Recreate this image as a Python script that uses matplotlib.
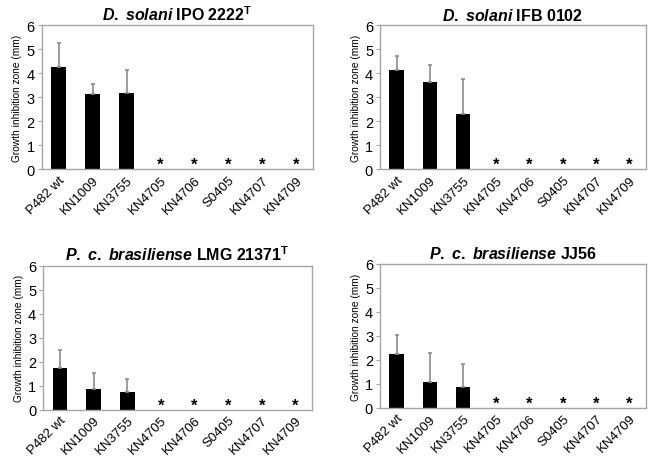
import matplotlib
matplotlib.use('Agg')
import matplotlib.pyplot as plt
import numpy as np

plt.rcParams['font.family'] = 'Liberation Sans'
plt.rcParams['mathtext.fontset'] = 'custom'
plt.rcParams['mathtext.it'] = 'Liberation Sans:italic:bold'
plt.rcParams['mathtext.rm'] = 'Liberation Sans:bold'
plt.rcParams['mathtext.bf'] = 'Liberation Sans:bold'

strains = ['P482 wt', 'KN1009', 'KN3755', 'KN4705', 'KN4706', 'S0405', 'KN4707', 'KN4709']

titles = [r'$\it{D.}$ $\it{solani}$ IPO 2222$^{\rm T}$',
          r'$\it{D.}$ $\it{solani}$ IFB 0102',
          r'$\it{P.}$ $\it{c.}$ $\it{brasiliense}$ LMG 21371$^{\rm T}$',
          r'$\it{P.}$ $\it{c.}$ $\it{brasiliense}$ JJ56']

# mean zone and upper error (mm); zero = no inhibition (marked with *)
means_ipo = [4.25, 3.12, 3.18, 0, 0, 0, 0, 0]
err_ipo = [1.02, 0.45, 0.95, 0, 0, 0, 0, 0]
means_ifb = [4.12, 3.63, 2.30, 0, 0, 0, 0, 0]
err_ifb = [0.60, 0.70, 1.44, 0, 0, 0, 0, 0]
means_lmg = [1.75, 0.87, 0.74, 0, 0, 0, 0, 0]
err_lmg = [0.76, 0.65, 0.54, 0, 0, 0, 0, 0]
means_jj = [2.24, 1.07, 0.87, 0, 0, 0, 0, 0]
err_jj = [0.78, 1.21, 0.96, 0, 0, 0, 0, 0]

panels = [(means_ipo, err_ipo), (means_ifb, err_ifb), (means_lmg, err_lmg), (means_jj, err_jj)]
positions = [[0.064, 0.630, 0.416, 0.313],
             [0.582, 0.630, 0.407, 0.313],
             [0.066, 0.107, 0.412, 0.313],
             [0.582, 0.111, 0.407, 0.313]]

spine_col = '#a6a6a6'

fig = plt.figure(figsize=(6.53, 4.60), dpi=100)
for pos, title, (means, errs) in zip(positions, titles, panels):
    ax = fig.add_axes(pos)
    x = np.arange(len(strains))
    means = np.array(means)
    errs = np.array(errs)
    ax.bar(x, means, width=0.44, color='black', zorder=2)
    has = means > 0
    ax.errorbar(x[has], means[has], yerr=[np.zeros(has.sum()), errs[has]],
                fmt='none', ecolor='#8c8c8c', elinewidth=1.2, capsize=1.5,
                capthick=1.2, zorder=3)
    for xi in x[~has]:
        ax.text(xi, -0.12, '*', ha='center', va='bottom', fontsize=12, fontweight='bold')
    ax.set_xlim(-0.5, len(strains) - 0.5)
    ax.set_ylim(0, 6)
    ax.set_yticks(range(7))
    ax.set_xticks(x)
    ax.set_xticklabels(strains, rotation=45, ha='right', rotation_mode='anchor', fontsize=9.5)
    ax.tick_params(axis='x', length=0, pad=3)
    ax.tick_params(axis='y', length=3, color=spine_col, labelsize=10.5, pad=2)
    for s in ax.spines.values():
        s.set_color(spine_col)
        s.set_linewidth(1.0)
    ax.set_ylabel('Growth inhibition zone (mm)', fontsize=7.3, labelpad=3)
    ax.set_title(title, fontsize=11.5, fontweight='bold', pad=4)

fig.savefig('out.png', dpi=100)
